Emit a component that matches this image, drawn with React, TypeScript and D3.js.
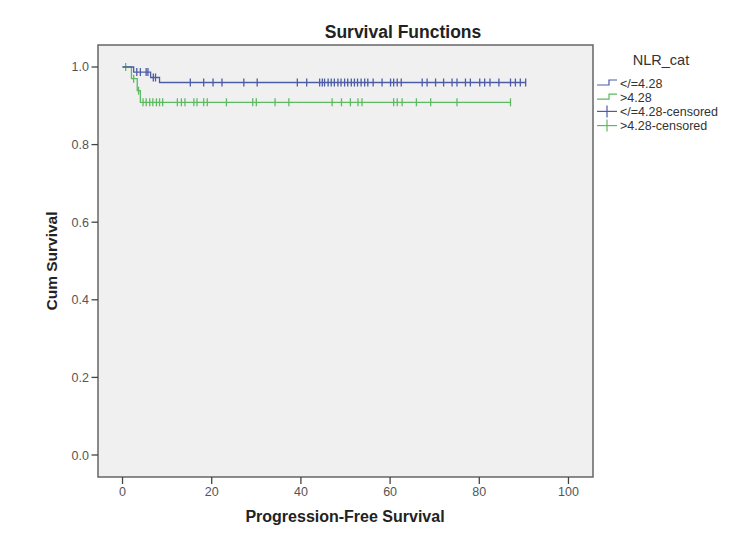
import React from "react";
import * as d3 from "d3";

const xTicks = [0, 20, 40, 60, 80, 100];
const yTicks = [0, 0.2, 0.4, 0.6, 0.8, 1.0];

const legendLabels = ["</=4.28", ">4.28", "</=4.28-censored", ">4.28-censored"];

const blueEventTimes = [2.5, 6.3, 8.3];
const blueLevels = [0.987, 0.973, 0.96];
const blueCensorTimes = [
  3.2, 4.0, 5.3, 5.7, 6.9, 7.4,
  15.2, 18.2, 20.3, 22.3, 27.2, 30.2, 39.2, 41.3, 44.2, 44.8, 45.3, 46.1, 46.8, 47.5,
  48.3, 49.0, 49.8, 50.5, 51.3, 52.0, 52.7, 53.5, 54.3, 55.0, 56.2, 58.2, 60.1, 60.8,
  61.6, 62.5, 67.2, 68.3, 70.2, 72.0, 73.9, 75.0, 76.9, 78.0, 80.1, 81.2, 82.4, 84.4,
  87.0, 88.1, 89.2, 90.4,
];

const greenEventTimes = [2.0, 3.3, 4.0];
const greenLevels = [0.97, 0.939, 0.909];
const greenCensorTimes = [
  0.7, 2.5, 3.6,
  4.6, 5.3, 6.1, 6.8, 7.6, 8.3, 9.0, 12.3, 13.2, 14.0, 16.0, 16.7, 18.2, 19.0, 23.3,
  29.2, 30.0, 34.2, 37.3, 47.0, 49.1, 51.1, 52.8, 53.7, 60.8, 61.6, 62.7, 65.9, 69.1,
  75.0, 87.0,
];

const BLUE = "#4d5ca6";
const GREEN = "#5cba60";

const W = 750;
const H = 538;
const box = { left: 98, right: 593, top: 45, bottom: 477 };

const x = d3.scaleLinear().domain([-5.5, 105.5]).range([box.left, box.right]);
const y = d3.scaleLinear().domain([-0.0567, 1.0567]).range([box.bottom, box.top]);

function levelAt(t: number, times: number[], levels: number[]) {
  let s = 1;
  for (let i = 0; i < times.length; i++) if (times[i] <= t) s = levels[i];
  return s;
}

function stepPoints(times: number[], levels: number[], end: number): [number, number][] {
  const pts: [number, number][] = [[0, 1]];
  times.forEach((t, i) => pts.push([t, levels[i]]));
  pts.push([end, levels[levels.length - 1]]);
  return pts;
}

const lineGen = d3
  .line<[number, number]>()
  .x((d) => x(d[0]))
  .y((d) => y(d[1]))
  .curve(d3.curveStepAfter);

function Curve({ times, levels, censor, color }: { times: number[]; levels: number[]; censor: number[]; color: string }) {
  const end = d3.max(censor) as number;
  const pts = stepPoints(times, levels, end);
  return (
    <g>
      <path d={lineGen(pts) || ""} fill="none" stroke={color} strokeWidth={1.3} />
      {censor.map((t, i) => {
        const cx = x(t);
        const cy = y(levelAt(t, times, levels));
        return <line key={i} x1={cx} x2={cx} y1={cy - 4} y2={cy + 4} stroke={color} strokeWidth={1.3} />;
      })}
    </g>
  );
}

export default function App() {
  const font = "Arial, 'Liberation Sans', sans-serif";
  const legendX = 597;
  const legendY0 = 83;
  const legendDy = 14.2;
  const legendColors = [BLUE, GREEN, BLUE, GREEN];
  return (
    <svg width={W} height={H} style={{ position: "absolute", left: 0, top: 0, background: "#fff" }} fontFamily={font}>
      <rect x={0} y={0} width={W} height={H} fill="#fff" />
      <text x={403} y={38} textAnchor="middle" fontSize={17.5} fontWeight="bold" fill="#222">
        Survival Functions
      </text>
      <rect x={box.left} y={box.top} width={box.right - box.left} height={box.bottom - box.top} fill="#f0f0f0" />
      <Curve times={greenEventTimes} levels={greenLevels} censor={greenCensorTimes} color={GREEN} />
      <Curve times={blueEventTimes} levels={blueLevels} censor={blueCensorTimes} color={BLUE} />
      <rect x={box.left} y={box.top} width={box.right - box.left} height={box.bottom - box.top} fill="none" stroke="#666" strokeWidth={1.5} />
      {xTicks.map((t) => (
        <g key={t}>
          <line x1={x(t)} x2={x(t)} y1={box.bottom} y2={box.bottom + 7} stroke="#444" strokeWidth={1.3} />
          <text x={x(t)} y={box.bottom + 19} textAnchor="middle" fontSize={12.5} fill="#555">
            {t}
          </text>
        </g>
      ))}
      {yTicks.map((t) => (
        <g key={t}>
          <line x1={box.left - 6.5} x2={box.left} y1={y(t)} y2={y(t)} stroke="#444" strokeWidth={1.3} />
          <text x={box.left - 9} y={y(t) + 4.5} textAnchor="end" fontSize={12.5} fill="#555">
            {t.toFixed(1)}
          </text>
        </g>
      ))}
      <text x={345} y={522} textAnchor="middle" fontSize={16} fontWeight="bold" fill="#222">
        Progression-Free Survival
      </text>
      <text transform={`translate(57,${(box.top + box.bottom) / 2}) rotate(-90)`} textAnchor="middle" fontSize={15.5} fontWeight="bold" fill="#222">
        Cum Survival
      </text>
      <text x={661} y={65} textAnchor="middle" fontSize={14.5} fill="#333">
        NLR_cat
      </text>
      {legendLabels.map((lab, i) => {
        const cy = legendY0 + i * legendDy;
        const c = legendColors[i];
        return (
          <g key={lab}>
            {i < 2 ? (
              <path
                d={`M${legendX},${cy + 2}H${legendX + 12}V${cy - 3}H${legendX + 20}`}
                fill="none"
                stroke={c}
                strokeWidth={1.2}
              />
            ) : (
              <g>
                <line x1={legendX} x2={legendX + 20} y1={cy} y2={cy} stroke={c} strokeWidth={1.2} />
                <line x1={legendX + 10} x2={legendX + 10} y1={cy - 6} y2={cy + 6} stroke={c} strokeWidth={1.2} />
              </g>
            )}
            <text x={legendX + 23} y={cy + 4.5} fontSize={12.5} fill="#333">
              {lab}
            </text>
          </g>
        );
      })}
    </svg>
  );
}
